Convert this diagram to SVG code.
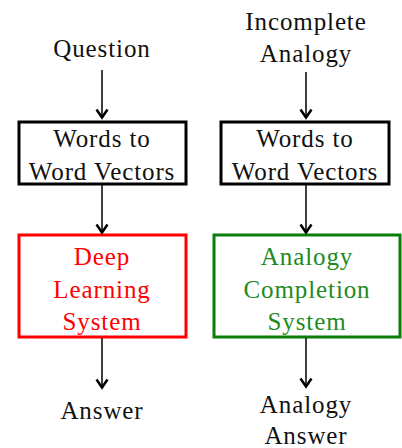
<svg xmlns="http://www.w3.org/2000/svg" width="402" height="448" viewBox="0 0 402 448">
<defs>
<style>
text{font-family:"Liberation Serif","Times New Roman",serif;font-size:25px;letter-spacing:0.9px;text-anchor:middle;fill:#111}
.box{fill:#fff;stroke-width:3}
.blk{stroke:#000}
.red{stroke:#ff0000}
.grn{stroke:#0b7d0b}
.tr{fill:#ff0000}
.tg{fill:#218b21}
.conn line{stroke:#000;stroke-width:1.5}
.conn path{fill:none;stroke:#000;stroke-width:2.5;stroke-linejoin:miter}
</style>
</defs>
<g id="question"><text x="102" y="57">Question</text></g>
<g id="incomplete-analogy"><text x="306" y="30">Incomplete</text><text x="306" y="62">Analogy</text></g>
<g id="w2v-left"><rect class="box blk" x="19" y="122" width="167" height="62"/><text x="102" y="147">Words to</text><text x="102" y="180">Word Vectors</text></g>
<g id="w2v-right"><rect class="box blk" x="221" y="122" width="168" height="62"/><text x="305" y="147">Words to</text><text x="305" y="180">Word Vectors</text></g>
<g id="deep-learning"><rect class="box red" x="19" y="235" width="167" height="102"/><text class="tr" x="102" y="265">Deep</text><text class="tr" x="102" y="298">Learning</text><text class="tr" x="102" y="330">System</text></g>
<g id="analogy-completion"><rect class="box grn" x="214" y="235" width="186" height="102"/><text class="tg" x="307" y="265">Analogy</text><text class="tg" x="307" y="298">Completion</text><text class="tg" x="307" y="330">System</text></g>
<g id="answer"><text x="102" y="419">Answer</text></g>
<g id="analogy-answer"><text x="306" y="413">Analogy</text><text x="306" y="444">Answer</text></g>
<g class="conn">
<line x1="102" y1="70" x2="102" y2="117"/><path d="M96.5 109.5L102 117.5L107.5 109.5"/>
<line x1="306" y1="72" x2="306" y2="117"/><path d="M300.5 109.5L306 117.5L311.5 109.5"/>
<line x1="102" y1="185" x2="102" y2="232"/><path d="M96.5 224.5L102 232.5L107.5 224.5"/>
<line x1="306" y1="185" x2="306" y2="232"/><path d="M300.5 224.5L306 232.5L311.5 224.5"/>
<line x1="102" y1="338" x2="102" y2="387"/><path d="M96.5 379.5L102 387.5L107.5 379.5"/>
<line x1="306" y1="338" x2="306" y2="386"/><path d="M300.5 378.5L306 386.5L311.5 378.5"/>
</g>
</svg>
